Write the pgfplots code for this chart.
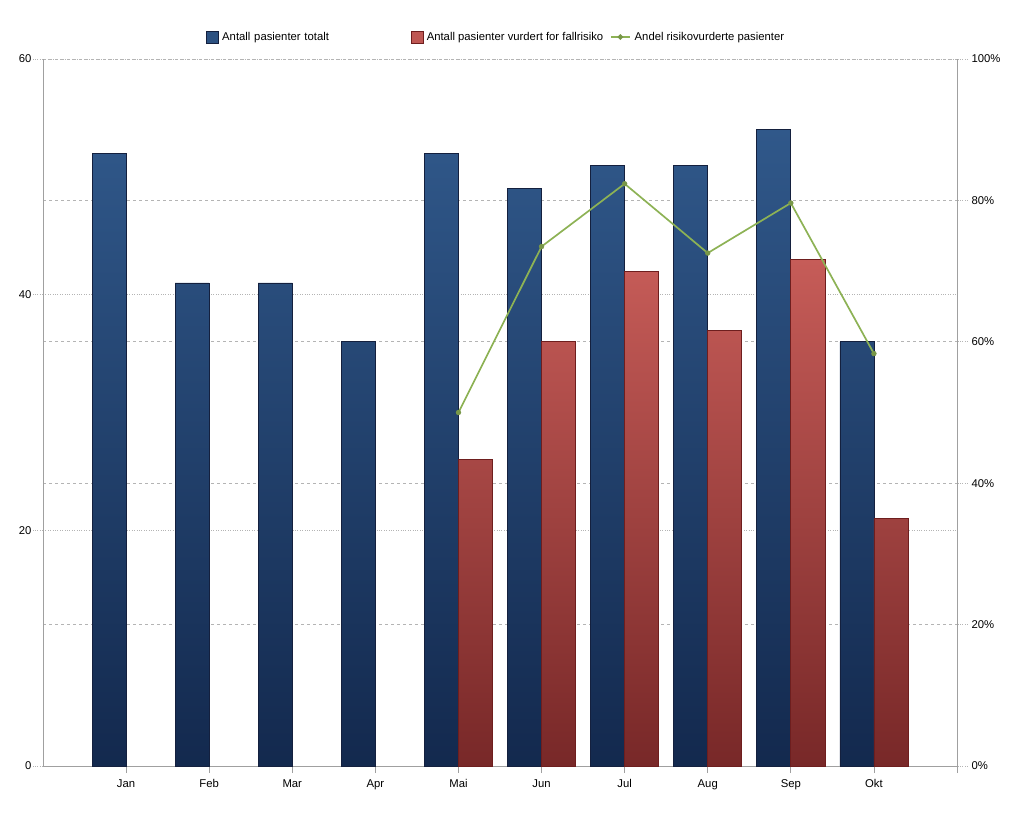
\documentclass[border=0pt]{standalone}
\usepackage{fontspec}
\setmainfont{Liberation Sans}
\usepackage{pgfplots}
\pgfplotsset{compat=1.18}

\definecolor{bluetop}{RGB}{48,88,138}
\definecolor{bluebot}{RGB}{19,41,78}
\definecolor{redtop}{RGB}{198,92,88}
\definecolor{redbot}{RGB}{120,40,40}
\definecolor{blueedge}{RGB}{20,32,62}
\definecolor{rededge}{RGB}{110,30,30}
\definecolor{lgreen}{RGB}{141,178,85}
\definecolor{axgray}{RGB}{160,160,160}
\definecolor{gridgray}{RGB}{180,180,180}

\pgfplotsset{
  base/.style={
    scale only axis, width=914pt, height=707pt,
    xmin=-1, xmax=10,
    at={(43pt,69pt)}, anchor=south west,
    font=\fontsize{11.3}{13}\selectfont,
    /pgf/number format/assume math mode=true,
    axis line style={axgray, line width=0.8pt},
    tick align=outside,
    major tick length=10pt,
    minor tick num=0,
  }
}

\begin{document}
\begin{tikzpicture}[x=1pt,y=1pt]
\useasboundingbox (0,0) rectangle (1022,835);

% right percent axis with its grid
\begin{axis}[base,
  ymin=0, ymax=100,
  axis x line=none,
  axis y line*=right,
  ytick={0,20,40,60,80,100},
  yticklabels={0\%,20\%,40\%,60\%,80\%,100\%},
  ymajorgrids,
  grid style={dashed, gridgray, line width=0.6pt},
  ytick style={dotted, gridgray, line width=0.8pt},
  yticklabel style={align=left, anchor=west, xshift=1pt},
]
\addplot[draw=none] coordinates {(0,0)};
\end{axis}

% left axis with bars
\begin{axis}[base,
  ymin=0, ymax=60,
  axis x line*=bottom,
  axis y line*=left,
  ytick={0,20,40,60},
  ymajorgrids,
  grid style={dotted, gridgray, line width=0.8pt},
  ytick style={dotted, gridgray, line width=0.8pt},
  xtick={0,1,2,3,4,5,6,7,8,9,10},
  xticklabels={Jan,Feb,Mar,Apr,Mai,Jun,Jul,Aug,Sep,Okt,},
  xtick style={solid, axgray, line width=0.8pt, /pgfplots/major tick length=7pt},
  yticklabel style={xshift=2pt},
]
\addplot[ybar, bar width=0.41, bar shift=-0.205,
  draw=blueedge, line width=0.7pt, top color=bluetop, bottom color=bluebot]
  coordinates {(0,52) (1,41) (2,41) (3,36) (4,52) (5,49) (6,51) (7,51) (8,54) (9,36)};
\addplot[ybar, bar width=0.41, bar shift=0.205,
  draw=rededge, line width=0.7pt, top color=redtop, bottom color=redbot]
  coordinates {(4,26) (5,36) (6,42) (7,37) (8,43) (9,21)};
\end{axis}

% hidden percent axis with line and legend
\begin{axis}[base,
  ymin=0, ymax=100,
  hide axis,
  legend columns=3,
  legend cell align=left,
  legend style={draw=none, fill=none, at={(0.175,1.031)}, anchor=west,
    font=\fontsize{11.3}{13}\selectfont,
    /tikz/every even column/.append style={column sep=5pt}},
]
\addlegendimage{legend image code/.code={\draw[draw=blueedge, line width=0.7pt, fill=bluetop!85!bluebot] (0pt,-6pt) rectangle (12pt,6pt); \path (13.5pt,0pt);}}
\addlegendentry[text width=181.5pt]{Antall pasienter totalt}
\addlegendimage{legend image code/.code={\draw[draw=rededge, line width=0.7pt, fill=redtop!90!redbot] (0pt,-6pt) rectangle (12pt,6pt); \path (13.5pt,0pt);}}
\addlegendentry{Antall pasienter vurdert for fallrisiko}
\addplot[color=lgreen, line width=1.7pt, mark=*, mark size=2.4pt,
  mark options={fill=lgreen!85!black, draw=lgreen!85!black, line width=0.5pt},
  legend image code/.code={\draw[lgreen, line width=1.2pt] (0pt,0pt) -- (19pt,0pt); \fill[lgreen!85!black] (9.5pt,0pt) circle (1.8pt); \path (21pt,0pt);}]
  coordinates {(4,50.00) (5,73.47) (6,82.35) (7,72.55) (8,79.63) (9,58.33)};
\addlegendentry{Andel risikovurderte pasienter}
\end{axis}
\end{tikzpicture}
\end{document}
